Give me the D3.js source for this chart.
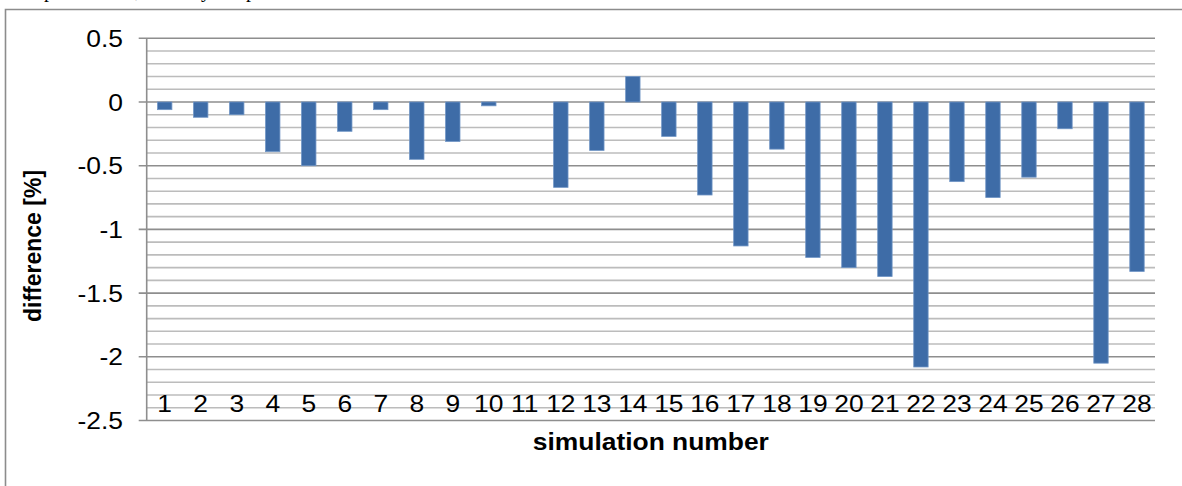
<!DOCTYPE html>
<html>
<head>
<meta charset="utf-8">
<script src="https://cdn.jsdelivr.net/npm/d3@7"></script>
<style>
  html, body { margin: 0; padding: 0; background: #fff; overflow: hidden; }
  text { font-family: "Liberation Sans", Arial, sans-serif; fill: #000; }
</style>
</head>
<body>
<div class="chart"></div>
<script>
// data
const simulations = d3.range(1, 29).map(String);
const differences = [-0.06, -0.12, -0.10, -0.39, -0.50, -0.23, -0.06, -0.45, -0.31, -0.03,
                     0, -0.67, -0.38, 0.20, -0.27, -0.73, -1.13, -0.37, -1.22, -1.30,
                     -1.37, -2.08, -0.625, -0.75, -0.59, -0.21, -2.05, -1.33];
const yTicks = [0.5, 0, -0.5, -1, -1.5, -2, -2.5];
const yTickLabels = ["0.5", "0", "-0.5", "-1", "-1.5", "-2", "-2.5"];
// bits of the text line above the chart that got cut off
const cutText = [["p", 44], [",", 135], ["y", 201], ["p", 246]];

// the original picture is a little wider than tall, so text is stretched sideways
const stretch = 1.1;

var svg = d3.select(".chart")
            .append("svg")
            .attr('width', 1182)
            .attr('height', 486)

// frame
svg.append("path")
  .attr("d", "M5.5,486 L5.5,9.5 L1182,9.5")
  .attr("fill", "none")
  .attr("stroke", "#8c8c8c")
  .attr("stroke-width", 1.6)

svg.selectAll(".cut").data(cutText).enter().append("text")
  .attr("x", d => d[1]).attr("y", -3)
  .style("font-family", "'Liberation Serif', 'Times New Roman', serif")
  .style("font-size", "20px")
  .text(d => d[0])

const plotLeft = 146.7, plotRight = 1155, plotTop = 38.3, plotBottom = 420.5;

var x = d3.scaleBand().domain(simulations).range([plotLeft, plotRight]).paddingInner(0.6).paddingOuter(0.3);
var y = d3.scaleLinear().domain([-2.5, 0.5]).range([plotBottom, plotTop]);

function place(px, py) {
  return "translate(" + px + "," + py + ") scale(" + stretch + ",1)";
}

//** grid lines, minor every 0.1 and major every 0.5 */
const minor = d3.range(-24, 5).map(v => v / 10).filter(v => Math.abs(v * 2 - Math.round(v * 2)) > 1e-6);
svg.append("g").selectAll("line").data(minor).enter().append("line")
  .attr("x1", plotLeft).attr("x2", plotRight)
  .attr("y1", d => y(d)).attr("y2", d => y(d))
  .attr("stroke", "#bcbcbc")
  .attr("stroke-width", 1.6)

svg.append("g").selectAll("line").data(yTicks.slice(0, -1)).enter().append("line")
  .attr("x1", plotLeft - 8).attr("x2", plotRight)
  .attr("y1", d => y(d)).attr("y2", d => y(d))
  .attr("stroke", "#8e8e8e")
  .attr("stroke-width", 1.6)

//** bars */
svg.append("g").selectAll("rect").data(differences).enter().append("rect")
  .attr("x", (d, i) => x(simulations[i]))
  .attr("width", x.bandwidth())
  .attr("y", d => y(Math.max(0, d)))
  .attr("height", d => Math.abs(y(d) - y(0)))
  .attr("fill", "#3e6ca7")
  .attr("stroke", "#7196c6")
  .attr("stroke-width", 0.8)

//** axes */
svg.append("line")
  .attr("x1", plotLeft).attr("x2", plotLeft)
  .attr("y1", plotTop).attr("y2", plotBottom)
  .attr("stroke", "#8e8e8e").attr("stroke-width", 1.6)
svg.append("line")
  .attr("x1", plotLeft - 8).attr("x2", plotRight)
  .attr("y1", plotBottom).attr("y2", plotBottom)
  .attr("stroke", "#8e8e8e").attr("stroke-width", 1.6)

svg.append("g").selectAll("text").data(yTicks).enter().append("text")
  .attr("transform", d => place(123, y(d) + 8.6))
  .attr("text-anchor", "end")
  .style("font-size", "24px")
  .text((d, i) => yTickLabels[i])

svg.append("g").selectAll("text").data(simulations).enter().append("text")
  .attr("transform", d => place(x(d) + x.bandwidth() / 2, 412))
  .attr("text-anchor", "middle")
  .style("font-size", "24px")
  .text(d => d)

//** titles */
svg.append("text")
  .attr("transform", place((plotLeft + plotRight) / 2, 450))
  .attr("text-anchor", "middle")
  .style("font-size", "24px").style("font-weight", "bold")
  .text("simulation number")

svg.append("text")
  .attr("transform", "translate(41," + 246 + ") rotate(-90)")
  .attr("text-anchor", "middle")
  .style("font-size", "23px").style("font-weight", "bold")
  .text("difference [%]")
</script>
</body>
</html>
